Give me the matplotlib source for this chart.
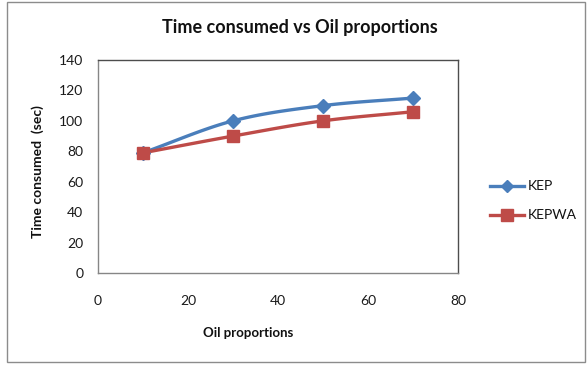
import numpy as np
import matplotlib
matplotlib.use("Agg")
import matplotlib.pyplot as plt
from matplotlib.patches import Rectangle

oil = [10, 30, 50, 70]
kep = [79, 100, 110, 115]
kepwa = [79, 90, 100, 106]

plt.rcParams['font.family'] = ['Lato', 'DejaVu Sans']


def smooth(x, y, n=40):
    """Catmull-Rom curve through the points (like a smoothed line chart)."""
    x = np.asarray(x, float)
    y = np.asarray(y, float)
    px = np.concatenate([[2 * x[0] - x[1]], x, [2 * x[-1] - x[-2]]])
    py = np.concatenate([[2 * y[0] - y[1]], y, [2 * y[-1] - y[-2]]])
    xs, ys = [], []
    t = np.linspace(0, 1, n)
    for i in range(1, len(px) - 2):
        for p, out in ((px, xs), (py, ys)):
            p0, p1, p2, p3 = p[i - 1], p[i], p[i + 1], p[i + 2]
            out.append(0.5 * ((2 * p1) + (-p0 + p2) * t
                              + (2 * p0 - 5 * p1 + 4 * p2 - p3) * t ** 2
                              + (-p0 + 3 * p1 - 3 * p2 + p3) * t ** 3))
    return np.concatenate(xs), np.concatenate(ys)


fig = plt.figure(figsize=(5.87, 3.66), dpi=100)
fig.patch.set_facecolor('white')
fig.add_artist(Rectangle((7 / 587, 4 / 366), 578 / 587, 360 / 366,
                         transform=fig.transFigure, fill=False,
                         edgecolor='#8c8c8c', linewidth=1.0))

ax = fig.add_axes([98 / 587, 93 / 366, 360 / 587, 213 / 366])

blue = '#4a7ebb'
red = '#be4b48'

sx, sy = smooth(oil, kep)
ax.plot(sx, sy, color=blue, linewidth=2.4, solid_capstyle='round', zorder=3)
ax.plot(oil, kep, linestyle='none', marker='D', markersize=7,
        color=blue, zorder=4)
sx, sy = smooth(oil, kepwa)
ax.plot(sx, sy, color=red, linewidth=2.4, solid_capstyle='round', zorder=3)
ax.plot(oil, kepwa, linestyle='none', marker='s', markersize=8,
        color=red, zorder=4)

ax.set_xlim(0, 80)
ax.set_ylim(0, 140)
ax.set_xticks([0, 20, 40, 60, 80])
ax.set_yticks(range(0, 141, 20))
ax.tick_params(axis='both', labelsize=10, length=0, labelcolor='#1a1a1a')
ax.tick_params(axis='y', pad=10.5)
ax.tick_params(axis='x', pad=16)

for side in ('left', 'bottom'):
    ax.spines[side].set_color('#868686')
    ax.spines[side].set_linewidth(1.0)
for side in ('top', 'right'):
    ax.spines[side].set_color('#4d4d4d')
    ax.spines[side].set_linewidth(1.0)

fig.text(300 / 587, 1 - 27 / 366, 'Time consumed vs Oil proportions',
         ha='center', va='center', fontsize=13, fontweight='bold',
         color='#111111')
fig.text(248 / 587, 1 - 333 / 366, 'Oil proportions', ha='center',
         va='center', fontsize=9.5, fontweight='bold', color='#111111')
fig.text(38 / 587, 1 - 172 / 366, 'Time consumed  (sec)', ha='center',
         va='center', rotation=90, fontsize=10, fontweight='bold',
         color='#111111')

# legend entries
lx0, lx1 = 490 / 587, 524 / 587
for label, color, marker, ms, ypix in (('KEP', blue, 'D', 6, 186),
                                       ('KEPWA', red, 's', 8, 215)):
    yy = 1 - ypix / 366
    fig.add_artist(plt.Line2D([lx0, lx1], [yy, yy], color=color,
                              linewidth=2.4, transform=fig.transFigure))
    fig.add_artist(plt.Line2D([(lx0 + lx1) / 2], [yy], color=color,
                              marker=marker, markersize=ms,
                              transform=fig.transFigure))
    fig.text(528 / 587, yy, label, ha='left', va='center', fontsize=10,
             color='#111111')

fig.savefig('out.png', dpi=100, facecolor='white')
